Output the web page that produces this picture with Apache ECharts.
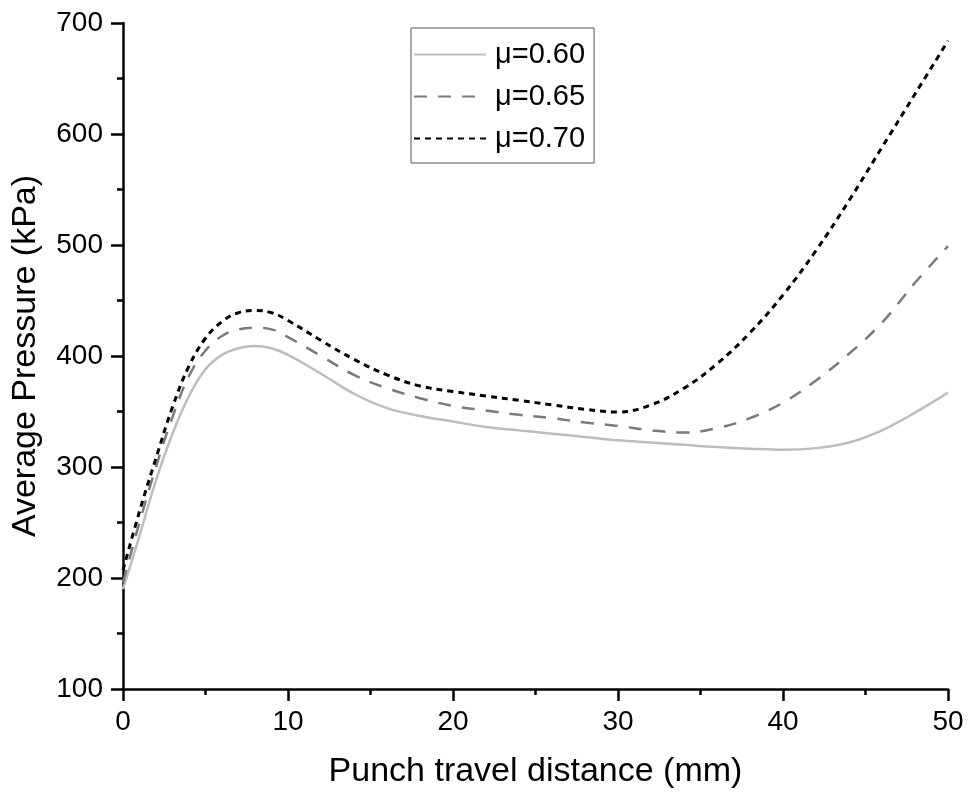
<!DOCTYPE html>
<html>
<head>
<meta charset="utf-8">
<script src="https://cdn.jsdelivr.net/npm/echarts@6/dist/echarts.min.js"></script>
<style>
html,body{margin:0;padding:0;background:#fff;}
#chart{width:969px;height:797px;}
</style>
</head>
<body>
<div id="chart"></div>
<script>
// Punch travel distance (mm)
var distance = [0,1,2,3,4,5,6,7,8,9,10,12,14,16,18,20,22,24,26,28,30,32,34,36,38,40,42,44,46,48,50];
// Average pressure (kPa)
var mu060 = [190,238,288,330,364,388,401,407,409,407,401,384,366,353,346,341,336,333,330,327,324,322,320,318,316.5,315.5,317,322,333,349,367];
var mu065 = [196,250,300,345,382,405,418,424,425.5,424,417,400,383,371,362,355,351,347,344,340,337,333,331,335,344,358,378,402,430,466,499];
var mu070 = [207,260,308,354,391,416,431,439,441,439,432,414,397,383,373,368,364,360,356,352,349.5,356,371,393,421,455,495,540,588,636,684];
var seriesNames = ['\u03bc=0.60','\u03bc=0.65','\u03bc=0.70'];
var xTicks = [0,10,20,30,40,50];
var yTicks = [100,200,300,400,500,600,700];

function pairs(xs, ys){ return xs.map(function(x,i){ return [x, ys[i]]; }); }

var font = "'Liberation Sans', Arial, sans-serif";
var chart = echarts.init(document.getElementById('chart'), null, {renderer:'canvas'});
var axisCommon = {
  axisLine:{show:true, onZero:false, lineStyle:{color:'#000', width:2.5}},
  axisTick:{show:true, inside:false, length:12, lineStyle:{color:'#000', width:2.5}},
  minorTick:{show:true, splitNumber:2, length:6, lineStyle:{color:'#000', width:2.5}},
  splitLine:{show:false},
  nameLocation:'middle',
  nameTextStyle:{fontFamily:font, fontSize:34, color:'#000'}
};
chart.setOption({
  animation:false,
  backgroundColor:'#fff',
  grid:{left:123, right:21, top:23, bottom:108, containLabel:false},
  legend:{
    orient:'vertical', left:411, top:28,
    data:seriesNames,
    itemWidth:72, itemHeight:20, itemGap:13,
    padding:[12,9,10,2],
    borderColor:'#555', borderWidth:1,
    itemStyle:{opacity:0},
    textStyle:{fontFamily:font, fontSize:29, color:'#000', padding:[0,0,0,4]}
  },
  xAxis:Object.assign({}, axisCommon, {
    type:'value', min:xTicks[0], max:xTicks[xTicks.length-1], interval:10,
    name:'Punch travel distance (mm)', nameGap:66,
    axisLabel:{fontFamily:font, fontSize:28, color:'#000', margin:19}
  }),
  yAxis:Object.assign({}, axisCommon, {
    type:'value', min:yTicks[0], max:yTicks[yTicks.length-1], interval:100,
    name:'Average Pressure (kPa)', nameGap:80,
    axisLabel:{fontFamily:font, fontSize:28, color:'#000', margin:20}
  }),
  series:[
    {name:seriesNames[0], type:'line', data:pairs(distance, mu060), smooth:0.4, symbol:'none', showSymbol:false,
     lineStyle:{color:'#bdbdbd', width:2.5, type:'solid'}, itemStyle:{color:'#bdbdbd'}},
    {name:seriesNames[1], type:'line', data:pairs(distance, mu065), smooth:0.4, symbol:'none', showSymbol:false,
     lineStyle:{color:'#7a7a7a', width:2.5, type:[13,11]}, itemStyle:{color:'#7a7a7a'}},
    {name:seriesNames[2], type:'line', data:pairs(distance, mu070), smooth:0.4, symbol:'none', showSymbol:false,
     lineStyle:{color:'#000', width:3, type:[6,5]}, itemStyle:{color:'#000'}}
  ]
});
</script>
</body>
</html>
